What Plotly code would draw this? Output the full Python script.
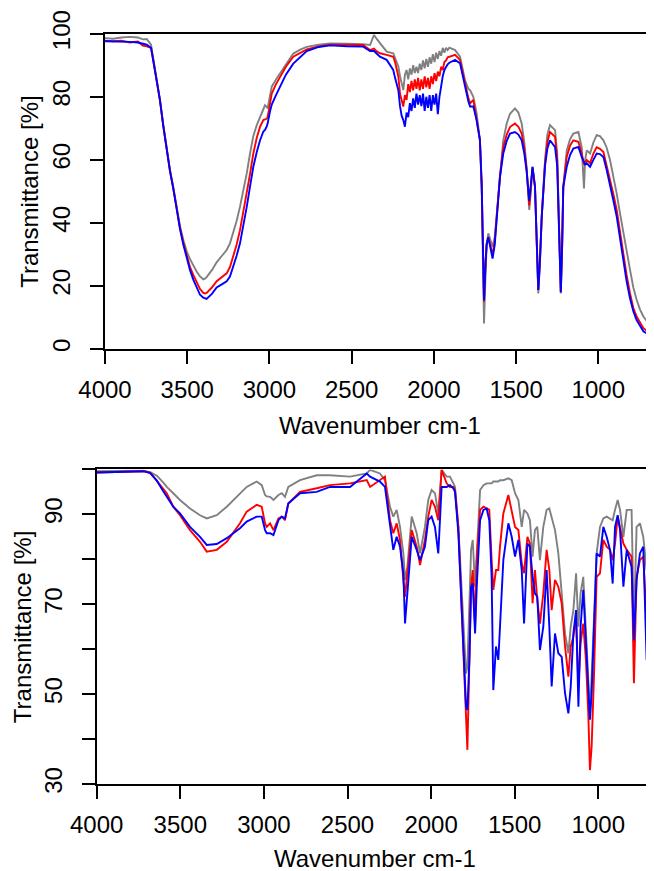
import plotly.graph_objects as go

# ---------------- Top panel data ----------------
top_wn = [4000, 3950, 3900, 3850, 3800, 3770, 3746, 3720, 3706, 3686, 3666, 3645, 3625, 3605, 3585,
          3565, 3544, 3523, 3503, 3483, 3463, 3442, 3422, 3402, 3392, 3382, 3350, 3321, 3290, 3260,
          3240, 3220, 3200, 3179, 3158, 3138, 3118, 3098, 3077, 3057, 3037, 3027, 3017, 3011, 2996,
          2986, 2960, 2936, 2900, 2855, 2810, 2773, 2700, 2632, 2530, 2430, 2388, 2364, 2350, 2328,
          2287,
          2247, 2236, 2226, 2216, 2206, 2196, 2186, 2176, 2166, 2156, 2146, 2136, 2126, 2116, 2106,
          2096, 2086, 2076, 2066, 2056, 2046, 2036, 2026, 2016, 2006, 1996, 1986, 1976, 1966, 1956,
          1946, 1936, 1926, 1916, 1906,
          1871, 1841, 1811, 1790, 1780, 1760, 1740, 1720, 1709, 1695,
          1685, 1679, 1669, 1655, 1643, 1630, 1619, 1598, 1578, 1557, 1537, 1507, 1486, 1466, 1450,
          1436, 1420, 1410, 1400, 1385, 1375, 1365, 1355, 1344, 1324, 1310, 1294, 1263, 1250, 1243,
          1235, 1228, 1220, 1213, 1192, 1172, 1152, 1121, 1101, 1087, 1080, 1070, 1050, 1030, 1010,
          990, 969, 950, 929, 908, 888, 868, 848, 828, 807, 787, 767, 746, 726, 700, 680, 661]

top_gray = [98.6, 98.4, 98.8, 99.0, 98.8, 98.2, 98.3, 96.5, 92, 86, 79, 71, 63.5, 57, 51.5,
            45, 39, 34.5, 31, 28.5, 26.5, 24.5, 23, 22.1, 22.3, 22.8, 25, 27.5, 29.5, 31.4,
            33.5, 36.7, 40.5, 45.1, 50.5, 55.7, 62, 67.6, 71, 73.6, 76, 77.3, 76.8, 76.3, 80.5,
            83.2, 85.5, 87.4, 90.5, 93.7, 95, 95.8, 96.5, 96.9, 96.8, 96.7, 96.4, 99.6, 98.5, 97,
            94.3,
            93.8, 92.5, 91, 89.6, 86.5, 84, 82.1, 87, 88.5, 85.5, 89, 87, 90, 87.5, 89.5,
            87.5, 90.5, 88.5, 91.5, 89, 92, 89.5, 92.5, 90.5, 93.5, 91, 94, 92, 94.5, 93,
            95.5, 94, 95.5, 94.8, 95.6,
            94.8, 92.7, 85.3, 82.5, 82.1, 80, 74.8, 66.3, 50, 8.1,
            25, 33, 36.7, 34, 32.4, 35.5, 42, 55.7, 66.2, 71.5, 74.6, 76.3, 75, 71.5, 65.5,
            57.8, 44.1, 50, 57.8, 51.4, 35, 17.6, 27, 42, 60, 68, 71, 69.4, 62, 47,
            30, 17.6, 32, 51.4, 63, 66.5, 68.3, 68.8, 64, 50.9, 60, 63, 62, 65.5, 67.8,
            67.5, 66.2, 64, 60, 55, 49.3, 43, 36.7, 31, 25.1, 19.5, 15.6, 12.5, 10.3, 8.5, 7.3, 6.6]

top_red = [97.8, 97.6, 97.8, 97.2, 97.5, 96.2, 96.0, 95.5, 91.5, 85.5, 79, 70.5, 63, 56.5, 51,
           44.5, 38.5, 33.5, 29.5, 26, 23.5, 21, 19, 17.8, 17.6, 17.8, 19.5, 21.5, 22.8, 24,
           26, 29.3, 33, 37.7, 43.5, 49.4, 55.5, 62, 67, 70.5, 72.6, 72.8, 73, 73.5, 79,
           81, 84, 86.3, 89.5, 92.7, 94, 95, 96, 96.5, 96.5, 96.4, 94.8, 95.3, 94.5, 93.8,
           93.3,
           92.7, 91, 88.5, 86.4, 81, 78.5, 76.9, 80.5, 79, 84, 81.5, 85, 82, 85.5, 82.5,
           86, 82, 85.5, 82.5, 86.5, 83, 86, 82.5, 86.5, 84, 87.5, 85, 88, 86.5, 89.5,
           88.5, 91, 91.5, 92.5, 92.7,
           93.3, 91.7, 84.3, 79.5, 77.9, 79, 72.6, 66.3, 52, 15,
           28, 33.5, 35.5, 32.5, 30, 34, 41.5, 55, 64, 68, 70.4, 71.5, 70.5, 68.3, 63.5,
           57, 45.5, 51.5, 57.5, 51.4, 35, 18.7, 28, 42, 59, 65.5, 68.8, 67.3, 60, 47,
           30, 18, 33, 51.4, 60.9, 64.5, 66.2, 65.7, 62, 58.5, 59, 59.9, 58.9, 62, 64,
           63.5, 62.5, 58.5, 53.5, 49, 44, 37, 30.4, 23.5, 17.6, 13, 10.3, 8.2, 6.6, 5.6, 5.2, 5]

top_blue = [97.6, 97.6, 97.5, 97.4, 97.2, 96.8, 96.5, 95.5, 91.5, 85.5, 79, 70.5, 63, 56.5, 51,
            44.5, 38, 33, 28.5, 25, 22, 19.5, 17.2, 16.3, 16.0, 15.9, 17.5, 19.5, 20.5, 21.5,
            23, 26, 29.5, 33.5, 39, 45.1, 51.5, 57.8, 62.5, 66.2, 69, 69.5, 70.5, 71.5, 75.5,
            77.5, 80.5, 83.2, 87, 90.5, 92.8, 94.5, 95.8, 96.3, 96, 95.9, 94.5, 94.5, 93.8, 92.7,
            91.7,
            88.5, 86, 84, 82.1, 77, 74, 72.6, 70.5, 75, 73.5, 78, 75.5, 79.5, 76.5, 81,
            77.5, 80.5, 77, 81, 75.5, 80, 76.5, 80.5, 75.5, 80.5, 77.5, 81, 74.5, 80, 84,
            86.5, 88.5, 89.5, 90.3, 90.8,
            91.7, 90.6, 83.2, 78.5, 76.9, 76.9, 72.6, 66.3, 52, 15.5,
            28, 33, 35.5, 31.5, 28.7, 33, 41, 54.5, 62, 66, 68.3, 68.8, 68, 66.2, 62,
            56.5, 47, 52.5, 57.8, 51.4, 35, 18.7, 28, 42, 58, 63.5, 66.2, 64, 58, 47,
            30, 18, 33, 51.4, 57.8, 61.5, 63.6, 64.1, 60.9, 58.9, 58.5, 58.9, 57.8, 60, 62,
            61.8, 60.9, 57, 51.4, 47, 42, 35, 28.3, 21.5, 16, 12, 9.2, 7.2, 5.6, 4.8, 4.3, 4]

# ---------------- Bottom panel data ----------------
bot_wn = [4000, 3900, 3800, 3720, 3680, 3640, 3600, 3581, 3542, 3502, 3442, 3382, 3342, 3282, 3222,
          3183, 3143, 3103, 3043, 3013, 2993, 2983, 2963, 2943, 2913, 2893, 2874, 2854, 2784, 2684,
          2605, 2485, 2385, 2365, 2306, 2276, 2246, 2226, 2206, 2186, 2166, 2156, 2142, 2116, 2086,
          2066, 2037, 2017, 1997, 1977, 1957, 1937, 1907, 1887, 1867, 1857, 1837, 1817, 1803, 1791,
          1783, 1771, 1761, 1751, 1737, 1727, 1707, 1687, 1668, 1652, 1638, 1628, 1612, 1598, 1588,
          1568, 1538, 1518, 1498, 1478, 1458, 1444, 1424, 1409, 1393, 1379, 1365, 1349, 1329, 1309,
          1293, 1279, 1259, 1239, 1219, 1199, 1179, 1165, 1149, 1133, 1119, 1106, 1090, 1074, 1060,
          1050, 1040, 1026, 1010, 990, 970, 950, 930, 914, 900, 884, 870, 850, 830, 801,
          787, 771, 751, 731, 711, 691, 667]

bot_gray = [99.6, 99.6, 99.7, 99.7, 99.4, 98.6, 97, 96.1, 94.7, 93.2, 91.3, 89.8, 89.1, 89.8, 91.7,
            93.2, 94.7, 96.1, 97.3, 96.5, 94.3, 94, 93.9, 93.2, 94.3, 94.7, 93.9, 96.1, 97.6, 98.7,
            98.7, 98.4, 99.1, 99.9, 99.1, 97.6, 91.7, 89.5, 91, 87.2, 81.3, 75.4, 78.3, 89.5, 85.8,
            81.3, 87.2, 93.2, 95.4, 94.7, 90.2, 99.9, 98.4, 98.4, 96.9, 96.1, 87.2, 72.4, 60.6, 54.6,
            56.1, 72.4, 82.1, 84.3, 73.9, 81.3, 95.4, 96.5, 96.9, 96.9, 96.9, 97.3, 97.3, 97.3, 97.6,
            97.6, 98, 97.6, 94.7, 93.2, 87.2, 91, 90.2, 88.7, 80.6, 86.5, 87.2, 79.8, 87.2, 91,
            91.3, 89.5, 86.5, 81.3, 72.4, 63.5, 59.1, 65, 68.7, 76.9, 65, 72.4, 76.1, 63.5, 50.2,
            45.7, 53.9, 68.7, 81.3, 87.2, 89.1, 89.5, 89.1, 88.7, 91, 93.2, 91, 85, 91, 91,
            65, 87.2, 88, 85, 77.5, 84.3, 85.5]

bot_red = [99.3, 99.4, 99.6, 99.6, 99.3, 97.5, 95.5, 94.7, 91.7, 89.8, 86.5, 83.9, 81.7, 82.1, 83.9,
           85.8, 88, 90.6, 92.1, 91.7, 88, 87.2, 88, 86.5, 89.1, 89.5, 88.7, 92.4, 95, 95.8,
           96.5, 96.9, 97.6, 96.1, 97.6, 98.4, 88.7, 85.8, 88, 84.3, 75.4, 71.7, 76.9, 86.5, 82.8,
           78.7, 84.3, 89.5, 93.2, 91.7, 88.7, 99.9, 96.9, 96.1, 96.1, 95.4, 87.2, 68.7, 53.9, 42.7,
           37.6, 57.6, 73.9, 77.6, 65, 79.8, 91, 91.7, 91.3, 91, 79.8, 73.2, 77.6, 77.6, 82.8,
           90.2, 94.3, 91, 87.2, 86.5, 79.1, 76.9, 85, 83.5, 70.2, 77.6, 71, 65.7, 72.4, 82.1,
           77.6, 68.7, 75.4, 73.9, 70.2, 60.6, 53.9, 60.6, 62.8, 67.2, 51.7, 61.3, 65.7, 57.6, 45.7,
           33.1, 38.3, 53.9, 76.1, 76.9, 84.3, 82.8, 82.1, 79.8, 83.5, 89.5, 87.2, 83.5, 82.1, 80.6,
           52.4, 76.1, 79.8, 80.6, 66.5, 73.9, 73.2]

bot_blue = [99.3, 99.4, 99.5, 99.6, 99.2, 97.5, 95, 93.9, 91.7, 90.2, 87.2, 85, 83.2, 83.4, 84.7,
            85.8, 86.9, 88.4, 89.5, 89.5, 86.5, 85.8, 85.8, 85.4, 88.7, 89.5, 89.1, 92.4, 94.7, 95,
            96.1, 96.1, 99.1, 98.4, 97.3, 96.1, 87.2, 82.1, 85, 82.8, 76.9, 65.7, 72.4, 85, 82.1,
            79.8, 82.8, 88.7, 89.5, 87.2, 81.3, 96.1, 96.1, 96.5, 95.8, 95, 85.8, 68.7, 54, 47.2,
            46.5, 57.6, 73.9, 74.6, 63.5, 73.9, 88.7, 91, 91.3, 88.7, 76.1, 50.9, 60.6, 57.6, 65,
            79.8, 88, 85, 80.6, 84.3, 77.6, 65.7, 83.5, 82.8, 76.1, 72.4, 71.7, 59.8, 65, 77.6,
            65, 51.7, 63.5, 59.1, 58.3, 50.2, 45.7, 51.7, 63.5, 68.7, 47.2, 65, 73.2, 60.6, 50.2,
            44.3, 50.2, 65, 81.3, 80.6, 87.2, 85, 82.1, 74.6, 87.2, 89.8, 86.5, 73.9, 82.1, 78.3,
            62, 75.4, 81.3, 82.8, 57.6, 78.5, 81.3]

for _ys in (top_gray, top_red, top_blue):
    assert len(_ys) == len(top_wn)
for _ys in (bot_gray, bot_red, bot_blue):
    assert len(_ys) == len(bot_wn)

x_ticks = [4000, 3500, 3000, 2500, 2000, 1500, 1000]
top_y_ticks = [0, 20, 40, 60, 80, 100]
bot_y_ticks = [30, 40, 50, 60, 70, 80, 90, 100]
bot_y_labels = ["30", "", "50", "", "70", "", "90", ""]

GRAY = "#808080"
RED = "#FF0000"
BLUE = "#0000FF"
LW = 1.9

# The page body has an 8 px margin, so the figure is shrunk by 8 px and
# every pixel position below is given in figure coordinates (page - 8).
OFF = 8
W, H = 654 - OFF, 871 - OFF
FONT = "Liberation Sans, Arial, sans-serif"
FS = 24

fig = go.Figure()
for ys, col in [(top_gray, GRAY), (top_red, RED), (top_blue, BLUE)]:
    fig.add_trace(go.Scatter(x=top_wn, y=ys, mode="lines", line=dict(color=col, width=LW),
                             xaxis="x", yaxis="y", showlegend=False, hoverinfo="skip"))
for ys, col in [(bot_gray, GRAY), (bot_red, RED), (bot_blue, BLUE)]:
    fig.add_trace(go.Scatter(x=bot_wn, y=ys, mode="lines", line=dict(color=col, width=LW),
                             xaxis="x2", yaxis="y2", showlegend=False, hoverinfo="skip"))

# pixel geometry (page coordinates, then shifted)
top_left, top_ytop, top_ybot = 105 - OFF, 33.7 - OFF, 349 - OFF
bot_left, bot_ytop, bot_ybot = 96.7 - OFF, 469.4 - OFF, 784 - OFF

axis_common = dict(showline=True, linecolor="black", linewidth=2, ticks="outside",
                   ticklen=13, tickwidth=2, tickcolor="black", showgrid=False, zeroline=False,
                   automargin=False,
                   tickfont=dict(family=FONT, size=FS, color="black"))

fig.update_layout(
    width=W, height=H, margin=dict(l=0, r=0, t=0, b=0, autoexpand=False),
    paper_bgcolor="white", plot_bgcolor="white",
    font=dict(family=FONT, size=FS, color="black"),
    xaxis=dict(domain=[top_left / W, 1], anchor="y", range=[4000, 661.3], tickvals=x_ticks,
               mirror=True, ticklabelstandoff=5, **axis_common),
    yaxis=dict(domain=[(H - top_ybot) / H, (H - top_ytop) / H], anchor="x", range=[0, 100],
               tickvals=top_y_ticks, tickangle=-90, ticklabelstandoff=10, **axis_common),
    xaxis2=dict(domain=[bot_left / W, 1], anchor="y2", range=[4000, 666.9], tickvals=x_ticks,
                mirror=True, ticklabelstandoff=5, **axis_common),
    yaxis2=dict(domain=[(H - bot_ybot) / H, (H - bot_ytop) / H], anchor="x2", range=[30, 100],
                tickvals=bot_y_ticks, ticktext=bot_y_labels, tickangle=-90, ticklabelstandoff=10,
                **axis_common),
)

annots = [
    dict(text="Wavenumber cm-1", x=(top_left + W) / 2 / W, y=(H - (425 - OFF)) / H),
    dict(text="Wavenumber cm-1", x=(bot_left + W) / 2 / W, y=(H - (858.5 - OFF)) / H),
    dict(text="Transmittance [%]", x=(29.5 - OFF) / W, y=(H - (top_ytop + top_ybot) / 2) / H, textangle=-90),
    dict(text="Transmittance [%]", x=(22.5 - OFF) / W, y=(H - (bot_ytop + bot_ybot) / 2) / H, textangle=-90),
]
for a in annots:
    fig.add_annotation(xref="paper", yref="paper", showarrow=False, xanchor="center",
                       yanchor="middle", font=dict(family=FONT, size=FS, color="black"), **a)

fig.write_html("out.html")
